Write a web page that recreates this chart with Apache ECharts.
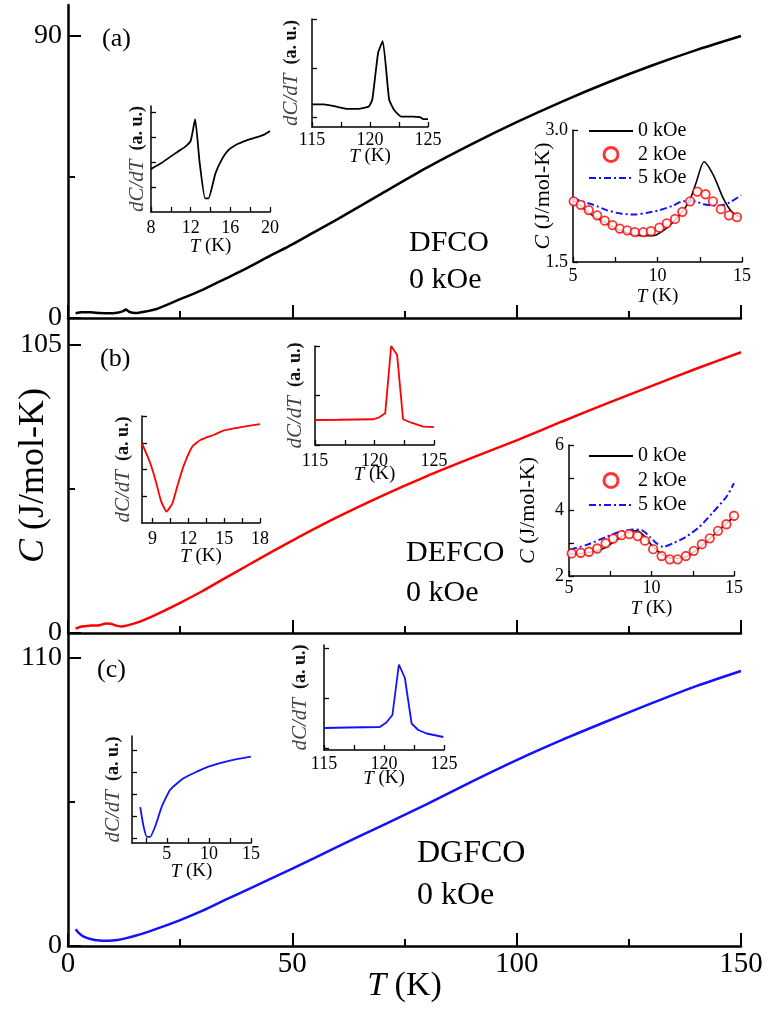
<!DOCTYPE html>
<html><head><meta charset="utf-8">
<script src="https://cdn.jsdelivr.net/npm/echarts@6/dist/echarts.min.js"></script>
<style>html,body{margin:0;padding:0;background:#fff}#c{width:771px;height:1010px}</style>
</head><body><div id="c"></div>
<script>
// ================= DATA =================
// main panels: C (J/mol-K) vs T (K)
const mainT_a = [1.7, 3, 5, 7, 9, 11, 12.3, 12.9, 13.6, 15, 17, 20, 25, 30, 35, 40, 45, 50, 55, 60, 70, 80, 90, 100, 110, 120, 130, 140, 150];
const mainC_a = [1.5, 1.8, 1.8, 1.6, 1.5, 1.7, 2.2, 2.7, 2.0, 1.6, 2.0, 3.0, 6.0, 9.0, 12.5, 16.0, 19.8, 23.5, 27.5, 31.5, 39.8, 48.0, 55.5, 62.5, 69.0, 75.0, 80.5, 85.5, 90.0];
const mainT_b = [1.7, 3, 5, 7, 8.5, 9.5, 11, 12, 13, 15, 17, 20, 25, 30, 35, 40, 45, 50, 60, 70, 80, 90, 100, 110, 120, 130, 140, 150];
const mainC_b = [1.6, 2.4, 2.7, 2.8, 3.5, 3.4, 2.6, 2.4, 2.7, 3.6, 4.8, 7.0, 11.0, 15.3, 20.0, 24.6, 29.2, 33.7, 42.2, 50.0, 57.2, 63.8, 70.2, 77.0, 83.6, 90.0, 96.3, 102.3];
const mainT_c = [1.7, 2.5, 3.5, 5, 7, 9, 11, 13, 15, 18, 20, 25, 30, 35, 40, 45, 50, 60, 70, 80, 90, 100, 110, 120, 130, 140, 150];
const mainC_c = [6.4, 4.8, 3.6, 2.7, 2.1, 2.0, 2.3, 3.0, 3.9, 5.5, 6.7, 9.9, 13.5, 17.6, 21.5, 25.5, 29.5, 37.8, 46.0, 54.2, 62.8, 71.0, 78.6, 85.7, 92.6, 99.2, 105.0];
const yTicks_a = [0, 90],  yMid_a = [45];
const yTicks_b = [0, 105], yMid_b = [52.5];
const yTicks_c = [0, 110], yMid_c = [55];

// inset a1: dC/dT (a.u.) 8-20 K, black
const a1_T = [8, 9, 9.9, 10.7, 11.4, 12.0, 12.45, 12.9, 13.45, 13.8, 14.5, 15.2, 15.8, 16.5, 17.3, 18.0, 18.7, 19.4, 20];
const a1_v = [1.72, 1.95, 2.2, 2.42, 2.6, 2.85, 3.72, 2.0, 0.55, 0.55, 1.55, 2.15, 2.48, 2.68, 2.82, 2.92, 3.0, 3.1, 3.25];
const a1_xTicks = [8, 10, 12, 14, 16, 18, 20], a1_xLabels = [8, 12, 16, 20], a1_yTicks = [1, 2, 3, 4];
// inset a2: dC/dT 115-125 K, black
const a2_T = [115, 116, 117, 118, 119, 119.9, 120.2, 120.7, 121.1, 121.65, 122.1, 122.7, 123.7, 124.3, 124.6, 125];
const a2_v = [0.26, 0.26, 0.22, 0.17, 0.17, 0.22, 0.36, 1.31, 1.55, 0.36, 0.14, 0.01, 0.01, 0.0, -0.04, -0.04];
const hiTTicks = [115, 117.5, 120, 122.5, 125], hiTLabels = [115, 120, 125];
const a2_yTicks = [0, 1, 2];
// inset a3: C vs T, 0/2/5 kOe
const a3_T0 = [5, 5.5, 6, 6.8, 7.8, 9.0, 9.75, 10.5, 11.3, 11.9, 12.3, 12.75, 13.3, 13.9, 14.4, 14.9];
const a3_C0 = [2.20, 2.13, 2.05, 1.96, 1.86, 1.80, 1.80, 1.88, 2.03, 2.20, 2.41, 2.64, 2.49, 2.22, 2.07, 2.01];
const a3_T2 = [5.04, 5.46, 5.93, 6.43, 6.88, 7.34, 7.77, 8.21, 8.66, 9.16, 9.61, 10.11, 10.55, 11.04, 11.47, 11.93, 12.36, 12.84, 13.28, 13.75, 14.23, 14.70];
const a3_C2 = [2.19, 2.15, 2.09, 2.03, 1.97, 1.92, 1.88, 1.86, 1.84, 1.84, 1.85, 1.89, 1.94, 1.99, 2.07, 2.19, 2.30, 2.27, 2.19, 2.10, 2.03, 2.01];
const a3_T5 = [5, 6.2, 7.0, 7.8, 8.7, 9.4, 10.15, 10.9, 11.5, 12.1, 12.9, 13.7, 14.3, 14.95];
const a3_C5 = [2.22, 2.15, 2.09, 2.05, 2.04, 2.06, 2.09, 2.14, 2.19, 2.19, 2.15, 2.14, 2.18, 2.26];
const lowTTicks = [5, 7.5, 10, 12.5, 15], lowTLabels = [5, 10, 15];
const a3_yTicks = [1.5, 3.0];
// inset b1: dC/dT 8-18 K, red
const b1_T = [8.13, 8.77, 9.25, 9.73, 10.18, 10.66, 11.1, 11.59, 12.34, 13.04, 14.16, 15.0, 16.4, 18.0];
const b1_v = [2.98, 2.30, 1.62, 0.81, 0.43, 0.72, 1.4, 2.11, 2.86, 3.11, 3.30, 3.46, 3.58, 3.70];
const b1_xTicks = [9, 10.5, 12, 13.5, 15, 16.5, 18], b1_xLabels = [9, 12, 15, 18], b1_yTicks = [1, 2, 3, 4];
// inset b2: dC/dT 115-125 K, red
const b2_T = [115, 117, 119.9, 120.4, 120.9, 121.4, 121.9, 122.4, 123.1, 124.1, 125];
const b2_v = [0.505, 0.51, 0.52, 0.56, 0.64, 2.0, 1.82, 0.52, 0.45, 0.37, 0.36];
const b2_yTicks = [0, 1, 2];
// inset b3: C vs T, 0/2/5 kOe
const b3_T0 = [5.06, 6.07, 7.08, 7.88, 8.69, 9.1, 9.5, 10.1, 10.7, 11.3, 12.12, 13.12, 14.13, 15];
const b3_C0 = [2.67, 2.71, 2.84, 3.10, 3.35, 3.38, 3.25, 2.89, 2.64, 2.54, 2.59, 2.95, 3.42, 3.81];
const b3_T2 = [5.16, 5.71, 6.21, 6.71, 7.22, 7.68, 8.19, 8.65, 9.16, 9.6, 10.1, 10.61, 11.11, 11.58, 12.08, 12.56, 13.05, 13.53, 14.03, 14.54, 15.0];
const b3_C2 = [2.69, 2.71, 2.74, 2.84, 3.00, 3.14, 3.25, 3.28, 3.22, 3.08, 2.82, 2.61, 2.51, 2.51, 2.61, 2.77, 2.97, 3.15, 3.38, 3.58, 3.84];
const b3_T5 = [5.06, 6.07, 7.28, 8.09, 8.89, 9.4, 9.9, 10.3, 10.7, 11.3, 12.1, 12.9, 13.7, 14.54, 15];
const b3_C5 = [2.81, 2.95, 3.20, 3.35, 3.42, 3.40, 3.20, 3.0, 2.89, 3.0, 3.2, 3.5, 3.93, 4.42, 4.83];
const b3_yTicks = [2, 3, 4, 5, 6], b3_yLabels = [2, 4, 6];
// inset c1: dC/dT 1-15 K, blue
const c1_T = [1.84, 2.23, 2.63, 3.02, 3.62, 4.41, 5.4, 6.98, 8.56, 9.94, 12.5, 15];
const c1_v = [1.40, 0.53, 0.05, 0.05, 0.53, 1.43, 2.19, 2.71, 3.01, 3.24, 3.51, 3.69];
const c1_xTicks = [2.5, 5, 7.5, 10, 12.5, 15], c1_xLabels = [5, 10, 15], c1_yTicks = [0, 1, 2, 3, 4];
// inset c2: dC/dT 115-125 K, blue
const c2_T = [115, 117, 119.65, 120.2, 120.7, 121.24, 121.74, 122.3, 122.85, 123.55, 124.94];
const c2_v = [0.41, 0.42, 0.43, 0.52, 0.67, 1.68, 1.41, 0.50, 0.37, 0.30, 0.23];
const c2_yTicks = [0, 1, 2];

// ================= STYLE / HELPERS =================
const SERIF = 'Liberation Serif';
const BLACK = '#000000', RED = '#ff0000', BLUE = '#1212ff';
const zip = (a, b) => a.map((x, i) => [x, b[i]]);

function richName(size) {
  return {fontFamily: SERIF, fontSize: size, color: '#000',
    rich: {i: {fontFamily: SERIF, fontSize: size, fontStyle: 'italic', color: '#000'}}};
}
function dcdtName() {
  return {fontFamily: SERIF, fontSize: 18, color: '#000',
    rich: {i: {fontFamily: SERIF, fontSize: 21, fontStyle: 'italic', color: '#444'},
           b: {fontFamily: SERIF, fontSize: 18, fontWeight: 'bold', color: '#111'}}};
}
function mainX(gi, showLabels) {
  return {type: 'value', gridIndex: gi, min: 0, max: 150, interval: 50,
    axisLine: {show: true, onZero: false, lineStyle: {color: BLACK, width: 2.5}},
    axisTick: {show: true, inside: true, length: 13, lineStyle: {color: BLACK, width: 2}},
    minorTick: {show: true, splitNumber: 2, length: 7, lineStyle: {color: BLACK, width: 2}},
    splitLine: {show: false}, minorSplitLine: {show: false},
    axisLabel: {show: showLabels, color: BLACK, fontFamily: SERIF, fontSize: 29, margin: 4},
    name: showLabels ? '{i|T} (K)' : '', nameLocation: 'middle', nameGap: 23, nameMoveOverlap: false,
    nameTextStyle: richName(34)};
}
function mainY(gi, max, ticks, withName) {
  return {type: 'value', gridIndex: gi, min: 0, max: max, position: 'left',
    axisLine: {show: true, onZero: false, lineStyle: {color: BLACK, width: 2.5}},
    axisTick: {show: true, inside: true, length: 13, customValues: ticks, lineStyle: {color: BLACK, width: 2}},
    axisLabel: {show: true, customValues: ticks, color: BLACK, fontFamily: SERIF, fontSize: 28, margin: 6},
    splitLine: {show: false},
    name: withName ? '{i|C} (J/mol-K)' : '', nameLocation: 'middle', nameGap: 16, nameRotate: 90, nameMoveOverlap: false,
    nameTextStyle: richName(36)};
}
function midY(gi, max, ticks) {
  return {type: 'value', gridIndex: gi, min: 0, max: max, position: 'left', offset: 0,
    axisLine: {show: false}, axisLabel: {show: false}, splitLine: {show: false},
    axisTick: {show: true, inside: true, length: 7, customValues: ticks, lineStyle: {color: BLACK, width: 2}}};
}
function inX(gi, min, max, ticks, labels, margin, nameGap) {
  return {type: 'value', gridIndex: gi, min: min, max: max,
    axisLine: {show: true, onZero: false, lineStyle: {color: BLACK, width: 1.5}},
    axisTick: {show: true, inside: true, length: 5, customValues: ticks, lineStyle: {color: BLACK, width: 1.3}},
    axisLabel: {show: true, customValues: labels, color: BLACK, fontFamily: SERIF, fontSize: 18, margin: margin},
    splitLine: {show: false},
    name: '{i|T} (K)', nameLocation: 'middle', nameGap: nameGap, nameMoveOverlap: false, nameTextStyle: richName(19)};
}
function inY(gi, min, max, ticks, labels, nameGap, isC, fmt) {
  return {type: 'value', gridIndex: gi, min: min, max: max,
    axisLine: {show: true, onZero: false, lineStyle: {color: BLACK, width: 1.5}},
    axisTick: {show: true, inside: true, length: 5, customValues: ticks, lineStyle: {color: BLACK, width: 1.3}},
    axisLabel: labels ? {show: true, customValues: labels, color: BLACK, fontFamily: SERIF, fontSize: 18, margin: 5, formatter: fmt}
                      : {show: false},
    splitLine: {show: false},
    name: isC ? '{i|C} (J/mol-K)' : '{i|dC/dT}  {b|(a. u.)}',
    nameLocation: 'middle', nameGap: nameGap, nameRotate: 90, nameMoveOverlap: false,
    nameTextStyle: isC ? richName(22) : dcdtName()};
}
function line(name, xi, data, color, width, smooth, dash) {
  return {type: 'line', name: name, xAxisIndex: xi, yAxisIndex: xi, data: data, symbol: 'none', showSymbol: false,
    smooth: smooth, lineStyle: {color: color, width: width, type: dash || 'solid'},
    itemStyle: {color: color}, emphasis: {disabled: true}, silent: true};
}
function circles(name, xi, data) {
  return {type: 'scatter', name: name, xAxisIndex: xi, yAxisIndex: xi, data: data, symbol: 'circle', symbolSize: 8.5,
    itemStyle: {color: '#ffffff', borderColor: RED, borderWidth: 1.8}, z: 4, silent: true};
}
function legendAt(top, gap) {
  return {show: true, orient: 'vertical', left: 588, top: top, itemWidth: 44, itemHeight: 14, itemGap: gap, padding: 0,
    selectedMode: false, textStyle: {fontFamily: SERIF, fontSize: 20, color: BLACK, lineHeight: 20},
    data: [{name: '0 kOe', itemStyle: {opacity: 0}},
           {name: '2 kOe', icon: 'circle', itemStyle: {color: '#ffffff', borderColor: RED, borderWidth: 3}},
           {name: '5 kOe', itemStyle: {opacity: 0}}]};
}
function txt(left, top, s, size) {
  return {type: 'text', left: left, top: top, style: {text: s, font: size + 'px "' + SERIF + '"', fill: BLACK}};
}
const DASHDOT = [7, 3, 2, 3];
const fmt1 = v => Number(v).toFixed(1);

const grids = [
  {left: 68, top: 5, width: 673, height: 313},
  {left: 68, top: 318, width: 673, height: 315},
  {left: 68, top: 633, width: 673, height: 313},
  {left: 151, top: 106, width: 119, height: 106},
  {left: 312, top: 19, width: 116, height: 108},
  {left: 573, top: 130, width: 169, height: 132},
  {left: 142, top: 416, width: 118, height: 107},
  {left: 315, top: 346, width: 119, height: 99},
  {left: 569, top: 445, width: 165, height: 131},
  {left: 132, top: 736, width: 119, height: 107},
  {left: 324, top: 645, width: 120, height: 105}
].map(g => Object.assign({outerBoundsMode: 'none', containLabel: false}, g));

const option = {
  animation: false,
  backgroundColor: '#ffffff',
  grid: grids,
  legend: [legendAt(121, 3.5), legendAt(446, 4.5)],
  xAxis: [
    mainX(0, false), mainX(1, false), mainX(2, true),
    inX(3, 8, 20, a1_xTicks, a1_xLabels, 7, 25),
    inX(4, 115, 125, hiTTicks, hiTLabels, 4, 20),
    inX(5, 5, 15, lowTTicks, lowTLabels, 5, 25),
    inX(6, 8.13, 18, b1_xTicks, b1_xLabels, 7, 24),
    inX(7, 115, 125, hiTTicks, hiTLabels, 7, 20),
    inX(8, 5, 15, lowTTicks, lowTLabels, 3, 23),
    inX(9, 0.86, 15, c1_xTicks, c1_xLabels, 2, 19),
    inX(10, 115, 125, hiTTicks, hiTLabels, 5, 19)
  ],
  yAxis: [
    mainY(0, 99.9, yTicks_a, false),
    mainY(1, 114.8, yTicks_b, true),
    mainY(2, 119.5, yTicks_c, false),
    inY(3, 0, 4.25, a1_yTicks, null, 3, false),
    inY(4, -0.2, 2.0, a2_yTicks, null, 10, false),
    inY(5, 1.5, 3.0, a3_yTicks, a3_yTicks, 19, true, fmt1),
    inY(6, 0, 4, b1_yTicks, null, 8, false),
    inY(7, 0, 2, b2_yTicks, null, 9, false),
    inY(8, 2, 6, b3_yTicks, b3_yLabels, 30, true),
    inY(9, -0.23, 4.63, c1_yTicks, null, 8, false),
    inY(10, -0.03, 2.07, c2_yTicks, null, 13, false),
    midY(0, 99.9, yMid_a), midY(1, 114.8, yMid_b), midY(2, 119.5, yMid_c)
  ],
  series: [
    line('DFCO', 0, zip(mainT_a, mainC_a), BLACK, 2.5, 0.25),
    line('DEFCO', 1, zip(mainT_b, mainC_b), RED, 2.5, 0.25),
    line('DGFCO', 2, zip(mainT_c, mainC_c), BLUE, 2.5, 0.25),
    line('a1', 3, zip(a1_T, a1_v), BLACK, 1.8, 0.15),
    line('a2', 4, zip(a2_T, a2_v), BLACK, 1.8, 0.15),
    line('0 kOe', 5, zip(a3_T0, a3_C0), BLACK, 1.6, 0.25),
    line('5 kOe', 5, zip(a3_T5, a3_C5), BLUE, 2, 0.25, DASHDOT),
    circles('2 kOe', 5, zip(a3_T2, a3_C2)),
    line('b1', 6, zip(b1_T, b1_v), RED, 1.8, 0.15),
    line('b2', 7, zip(b2_T, b2_v), RED, 1.8, 0),
    line('0 kOe', 8, zip(b3_T0, b3_C0), BLACK, 1.6, 0.25),
    line('5 kOe', 8, zip(b3_T5, b3_C5), BLUE, 2, 0.25, DASHDOT),
    circles('2 kOe', 8, zip(b3_T2, b3_C2)),
    line('c1', 9, zip(c1_T, c1_v), BLUE, 1.8, 0.15),
    line('c2', 10, zip(c2_T, c2_v), BLUE, 1.8, 0)
  ],
  graphic: [
    txt(102, 26, '(a)', 26), txt(409, 228, 'DFCO', 30), txt(409, 265, '0 kOe', 30),
    txt(100, 346, '(b)', 26), txt(406, 538, 'DEFCO', 30), txt(406, 578, '0 kOe', 30),
    txt(97, 657, '(c)', 26), txt(417, 838, 'DGFCO', 32), txt(417, 880, '0 kOe', 32)
  ]
};
const chart = echarts.init(document.getElementById('c'), null, {renderer: 'canvas'});
chart.setOption(option);
</script>
</body></html>
